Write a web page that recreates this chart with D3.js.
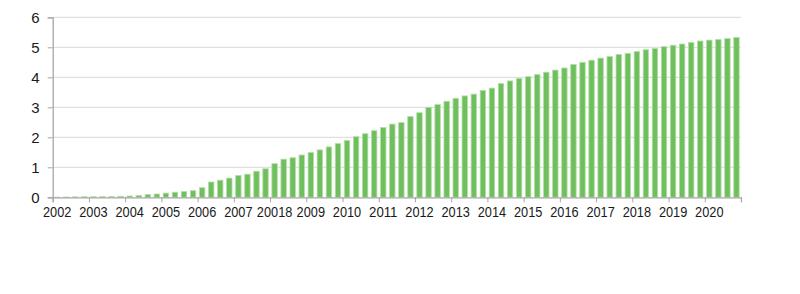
<!DOCTYPE html>
<html>
<head>
<meta charset="utf-8">
<script src="https://cdn.jsdelivr.net/npm/d3@7"></script>
<style>
  html, body { margin: 0; padding: 0; background: #ffffff; }
  svg { display: block; }
  text { font-family: "Liberation Sans", Arial, sans-serif; fill: #1a1a1a; }
</style>
</head>
<body>
<svg id="chart" width="800" height="294"></svg>
<script>
// Quarterly series, 2002Q1 .. 2020Q4
const quarters = [];
for (let yr = 2002; yr <= 2020; yr++) for (let q = 1; q <= 4; q++) quarters.push(yr + "Q" + q);

const values = [
  0.005, 0.01, 0.015, 0.02,   // 2002
  0.02, 0.025, 0.03, 0.035,   // 2003
  0.045, 0.06, 0.09, 0.11,    // 2004
  0.14, 0.17, 0.19, 0.22,     // 2005
  0.32, 0.51, 0.57, 0.64,     // 2006
  0.73, 0.77, 0.87, 0.95,     // 2007
  1.12, 1.27, 1.32, 1.41,     // 2008
  1.49, 1.58, 1.68, 1.79,     // 2009
  1.89, 2.02, 2.12, 2.22,     // 2010
  2.33, 2.44, 2.49, 2.69,     // 2011
  2.82, 3.00, 3.09, 3.20,     // 2012
  3.30, 3.38, 3.44, 3.56,     // 2013
  3.64, 3.79, 3.88, 3.96,     // 2014
  4.02, 4.09, 4.17, 4.24,     // 2015
  4.31, 4.43, 4.50, 4.57,     // 2016
  4.64, 4.69, 4.76, 4.80,     // 2017
  4.86, 4.92, 4.96, 5.02,     // 2018
  5.07, 5.11, 5.16, 5.21,     // 2019
  5.24, 5.26, 5.29, 5.33      // 2020
];

const yearTicks = d3.range(2002, 2022);
const yearLabels = ["2002","2003","2004","2005","2006","2007","20018","2009","2010","2011",
                    "2012","2013","2014","2015","2016","2017","2018","2019","2020"];
const yTicks = [0, 1, 2, 3, 4, 5, 6];

const plotLeft = 52.7, plotRight = 741, plotTop = 17.3, plotBottom = 197.3;
const svg = d3.select("#chart");

const x = d3.scaleBand().domain(quarters).range([plotLeft, plotRight])
  .paddingInner(0.4).paddingOuter(0.2);
const xYear = d3.scaleLinear().domain([2002, 2021]).range([plotLeft, plotRight]);
const y = d3.scaleLinear().domain([0, 6]).range([plotBottom, plotTop]);

// gridlines
svg.append("g").selectAll("line").data(yTicks.filter(d => d > 0)).join("line")
  .attr("x1", plotLeft).attr("x2", plotRight)
  .attr("y1", d => y(d)).attr("y2", d => y(d))
  .attr("stroke", "#d9d9d9").attr("stroke-width", 1);

// bars
svg.append("g").selectAll("rect").data(values).join("rect")
  .attr("x", (d, i) => x(quarters[i]))
  .attr("width", x.bandwidth())
  .attr("y", d => y(d))
  .attr("height", d => y(0) - y(d))
  .attr("fill", "#70bf5e")
  .attr("stroke", "#b4dfa6")
  .attr("stroke-width", 0.8);

// y axis
const yAxis = svg.append("g").attr("transform", `translate(${plotLeft},0)`)
  .call(d3.axisLeft(y).tickValues(yTicks).tickSize(5).tickPadding(8).tickFormat(d3.format("d")));
yAxis.select(".domain").attr("stroke", "#a6a6a6").attr("stroke-width", 1.3);
yAxis.selectAll(".tick line").attr("stroke", "#a6a6a6");
yAxis.selectAll("text").style("font-size", "15px").attr("fill", "#1a1a1a");

// x axis (year ticks)
const xAxis = svg.append("g").attr("transform", `translate(0,${plotBottom})`)
  .call(d3.axisBottom(xYear).tickValues(yearTicks).tickSize(5).tickFormat(""));
xAxis.select(".domain").attr("stroke", "#a6a6a6").attr("stroke-width", 1.3);
xAxis.selectAll(".tick line").attr("stroke", "#a6a6a6");

// year labels centred on the first quarter of each year
svg.append("g").selectAll("text").data(yearLabels).join("text")
  .attr("x", (d, i) => x(quarters[i * 4]) + x.bandwidth() / 2)
  .attr("y", 216.5)
  .attr("text-anchor", "middle")
  .attr("textLength", d => d.length * 7.1)
  .attr("lengthAdjust", "spacingAndGlyphs")
  .style("font-size", "14px")
  .text(d => d);
</script>
</body>
</html>
